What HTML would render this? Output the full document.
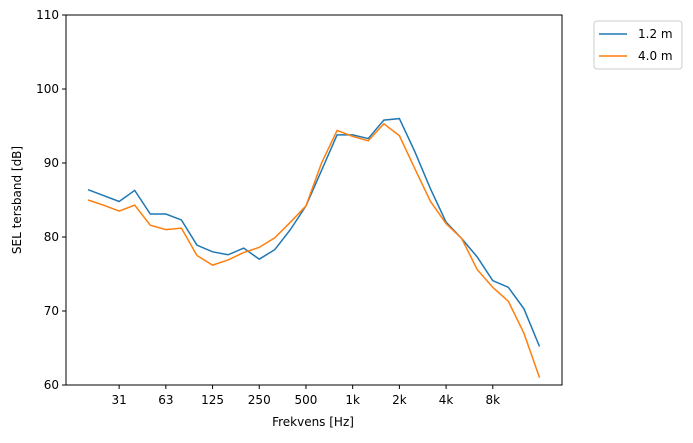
<!DOCTYPE html>
<html><head><meta charset="utf-8"><style>
body{margin:0;background:#fff;font-family:"Liberation Sans","DejaVu Sans",sans-serif;}
svg text{font-family:"DejaVu Sans","Liberation Sans",sans-serif;font-size:12px;fill:#000;}
</style></head><body>
<svg id="chart" width="693" height="438">
<rect x="0" y="0" width="693" height="438" fill="#fff"/>
<g id="ticks"></g>
<g id="lines"></g>
<rect x="66" y="15" width="496" height="370" fill="none" stroke="#000" stroke-width="1"/>
<text x="313" y="426" text-anchor="middle">Frekvens [Hz]</text>
<text transform="translate(21,200) rotate(-90)" text-anchor="middle">SEL tersband [dB]</text>
<g>
<rect x="594" y="21" width="88" height="48" rx="3" fill="#fff" stroke="#ccc"/>
<line x1="599" y1="34" x2="627" y2="34" stroke="#1f77b4" stroke-width="1.5"/>
<text x="638" y="38">1.2 m</text>
<line x1="599" y1="56" x2="627" y2="56" stroke="#ff7f0e" stroke-width="1.5"/>
<text x="638" y="60">4.0 m</text>
</g>
</svg>
<script>
const bandIndex=[0,1,2,3,4,5,6,7,8,9,10,11,12,13,14,15,16,17,18,19,20,21,22,23,24,25,26,27,28,29];
const series12=[86.4,85.6,84.8,86.3,83.1,83.1,82.3,78.9,78.0,77.6,78.5,77.0,78.3,81.0,84.2,89.0,93.8,93.8,93.3,95.8,96.0,91.5,86.5,82.0,79.8,77.3,74.1,73.2,70.3,65.2];
const series40=[85.0,84.3,83.5,84.3,81.6,81.0,81.2,77.5,76.2,76.9,77.9,78.6,79.9,82.0,84.2,90.0,94.4,93.6,93.0,95.3,93.7,89.2,84.8,81.8,79.8,75.6,73.2,71.3,67.0,61.0];
const xTickLabels=["31","63","125","250","500","1k","2k","4k","8k"];
const xTickBands=[2,5,8,11,14,17,20,23,26];
const yTicks=[60,70,80,90,100,110];
const NS="http://www.w3.org/2000/svg";
function xs(i){return 88+i*(539.5-88)/29;}
function ys(v){return 385-(v-60)*370/50;}
const tg=document.getElementById('ticks');
yTicks.forEach(v=>{
 const l=document.createElementNS(NS,'line');
 l.setAttribute('x1',62);l.setAttribute('x2',66);l.setAttribute('y1',ys(v));l.setAttribute('y2',ys(v));l.setAttribute('stroke','#000');
 
 
 tg.appendChild(l);
 const t=document.createElementNS(NS,'text');
 t.setAttribute('x',59);t.setAttribute('y',ys(v)+4);t.setAttribute('text-anchor','end');t.textContent=v;
 
 
 tg.appendChild(t);
});
xTickBands.forEach((b,k)=>{
 const x=xs(b);
 const l=document.createElementNS(NS,'line');
 l.setAttribute('x1',x);l.setAttribute('x2',x);l.setAttribute('y1',385);l.setAttribute('y2',389);l.setAttribute('stroke','#000');
 
 
 tg.appendChild(l);
 const t=document.createElementNS(NS,'text');
 t.setAttribute('x',x);t.setAttribute('y',404);t.setAttribute('text-anchor','middle');t.textContent=xTickLabels[k];
 
 
 tg.appendChild(t);
});
const lg=document.getElementById('lines');
function draw(data,color,name){
 const p=document.createElementNS(NS,'polyline');
 p.setAttribute('points',data.map((v,i)=>xs(bandIndex[i])+','+ys(v)).join(' '));
 p.setAttribute('fill','none');p.setAttribute('stroke',color);p.setAttribute('stroke-width','1.5');
 
 
 lg.appendChild(p);
}
draw(series12,'#1f77b4','line-1-2m');
draw(series40,'#ff7f0e','line-4-0m');
</script>
</body></html>
